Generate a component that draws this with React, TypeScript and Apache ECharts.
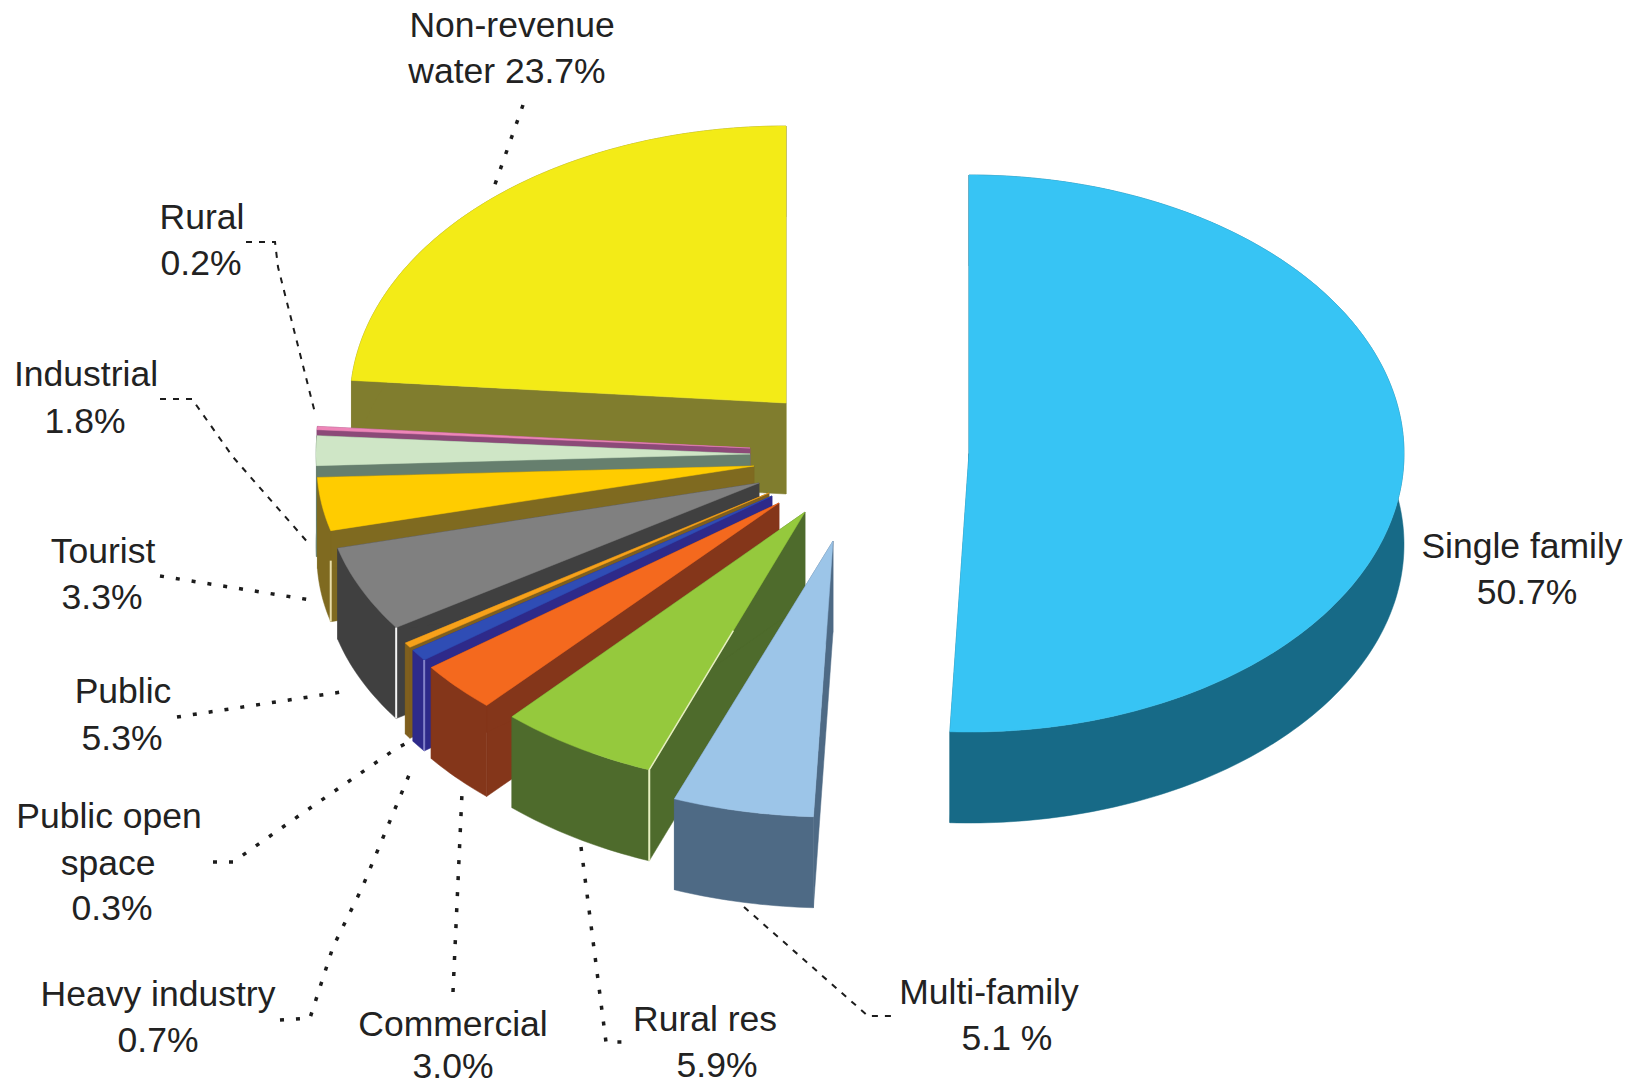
import React, { useEffect, useRef } from "react";
import * as echarts from "echarts";

// Water use by customer class, clockwise from twelve o'clock (percent).
const categories = [
  "Single family",
  "Multi-family",
  "Rural res",
  "Commercial",
  "Heavy industry",
  "Public open space",
  "Public",
  "Tourist",
  "Industrial",
  "Rural",
  "Non-revenue water",
];
const shares = [50.7, 5.1, 5.9, 3.0, 0.7, 0.3, 5.3, 3.3, 1.8, 0.2, 23.7];

const topColors = ["#37C4F4", "#9CC5E8", "#95C93D", "#F4691E", "#2F4DB5", "#F7A11A", "#808080", "#FFCC00", "#CFE6C6", "#EE86B8", "#F3EB17"];
const wallColors = ["#176A87", "#4E6A85", "#4E6B2C", "#84361A", "#2E2A8A", "#7F5F1E", "#404040", "#7F6A20", "#667F6E", "#8C4A78", "#807D2E"];

// Pale catch-light on the near corner of some wedges.
const highlightColors = [null, null, "#E6EFC0", null, "#8282C8", null, "#F4F4F4", "#E8DDA8", null, null, null];
const highlightSkip = [0, 0, 0, 0, 0, 0, 0, 30, 0, 0, 0];
const highlightAlongEdge = [0, 0, 0.54, 0, 0, 0, 0, 0, 0, 0, 0];

// Pulled-out apex and ellipse radii of each wedge on the page.
const apexX = [969, 833, 805, 779, 772, 769, 759, 754, 750, 750, 786];
const apexY = [453.5, 541, 512, 503, 496, 493, 483, 466, 454, 448, 403];
const radiusX = [435, 445, 437, 436, 436, 436, 435, 437, 434, 434, 436];
const radiusY = [278.5, 276, 276, 273, 272, 272, 262, 260, 265, 265, 277];
const wallDepth = 91;

const labelLines = [
  ["Single family", "50.7%"],
  ["Multi-family", "5.1 %"],
  ["Rural res", "5.9%"],
  ["Commercial", "3.0%"],
  ["Heavy industry", "0.7%"],
  ["Public open", "space", "0.3%"],
  ["Public", "5.3%"],
  ["Tourist", "3.3%"],
  ["Industrial", "1.8%"],
  ["Rural", "0.2%"],
  ["Non-revenue", "water 23.7%"],
];
const labelX = [
  [1522, 1527],
  [989, 1007],
  [705, 717],
  [453, 453],
  [158, 158],
  [109, 108, 112],
  [123, 122],
  [103, 102],
  [86, 85],
  [202, 201],
  [512, 507],
];
const labelY = [
  [546, 592],
  [992, 1038],
  [1019, 1065],
  [1024, 1066],
  [994, 1040],
  [816, 863, 908],
  [691, 738],
  [551, 597],
  [374, 421],
  [217, 263],
  [25, 71],
];

// Dotted leaders from each label to its wedge.
const leaders: { points: number[][]; fine?: boolean }[] = [
  { points: [[744, 907], [868, 1016], [894, 1016]], fine: true },
  { points: [[581, 847], [606, 1042], [627, 1042]] },
  { points: [[453, 992], [462, 793]] },
  { points: [[280, 1020], [310, 1018], [333, 947], [362, 888], [407, 780], [413, 765]] },
  { points: [[213, 862], [233, 862], [300, 815], [397, 748], [413, 740]] },
  { points: [[177, 717], [348, 691]] },
  { points: [[160, 576], [317, 601]] },
  { points: [[160, 399], [192, 399], [233, 457], [310, 545]], fine: true },
  { points: [[246, 242], [275, 242], [278, 267], [315, 413]], fine: true },
  { points: [[523, 105], [493, 190]] },
];

// Wedges are painted from the back of the pie forward.
const paintOrder = categories.map((_, i) => i).reverse();

function renderWedge(_params: any, api: any) {
  const idx = api.value(2);
  const start = (api.value(1) / 100) * Math.PI * 2;
  const end = ((api.value(1) + api.value(0)) / 100) * Math.PI * 2;
  const ax = apexX[idx];
  const ay = apexY[idx];
  const rx = radiusX[idx];
  const ry = radiusY[idx];
  const at = (a: number, drop = 0) => [ax + rx * Math.sin(a), ay - ry * Math.cos(a) + drop];

  const steps = Math.max(2, Math.ceil(((end - start) * 180) / Math.PI));
  const arc: number[][] = [];
  const arcLow: number[][] = [];
  for (let s = 0; s <= steps; s++) {
    const a = start + ((end - start) * s) / steps;
    arc.push(at(a));
    arcLow.push(at(a, wallDepth));
  }
  const wall = wallColors[idx];
  const poly = (points: number[][], fill: string) => ({
    type: "polygon",
    shape: { points },
    style: { fill, stroke: fill, lineWidth: 0.5 },
  });
  const children: any[] = [
    poly([[ax, ay], at(start), at(start, wallDepth), [ax, ay + wallDepth]], wall),
    poly([[ax, ay], at(end), at(end, wallDepth), [ax, ay + wallDepth]], wall),
    poly([...arc, ...arcLow.slice().reverse()], wall),
    poly([[ax, ay], ...arc], topColors[idx]),
  ];
  const hi = highlightColors[idx];
  if (hi) {
    const corner = at(start);
    children.push({
      type: "line",
      shape: {
        x1: corner[0],
        y1: corner[1] + highlightSkip[idx],
        x2: corner[0],
        y2: corner[1] + wallDepth,
      },
      style: { stroke: hi, lineWidth: 2 },
    });
    const along = highlightAlongEdge[idx];
    if (along > 0) {
      children.push({
        type: "line",
        shape: {
          x1: corner[0],
          y1: corner[1],
          x2: corner[0] + (ax - corner[0]) * along,
          y2: corner[1] + (ay - corner[1]) * along,
        },
        style: { stroke: hi, lineWidth: 1.5 },
      });
    }
  }
  return { type: "group", children };
}

export default function App() {
  const ref = useRef<HTMLDivElement>(null);
  useEffect(() => {
    document.body.style.margin = "0";
    const chart = echarts.init(ref.current!, undefined, { renderer: "svg" });

    const starts = shares.map((_, i) => shares.slice(0, i).reduce((a, b) => a + b, 0));

    const texts: any[] = [];
    labelLines.forEach((lines, i) => {
      lines.forEach((line, j) => {
        texts.push({
          type: "text",
          x: labelX[i][j],
          y: labelY[i][j],
          z: 10,
          style: {
            text: line,
            fill: "#222222",
            font: '35.5px "Liberation Sans", Arial, sans-serif',
            textAlign: "center",
            textVerticalAlign: "middle",
          },
        });
      });
    });
    const lines = leaders.map((l) => ({
      type: "polyline",
      z: 9,
      shape: { points: l.points },
      style: {
        fill: "none",
        stroke: "#1c1c1c",
        lineWidth: l.fine ? 2 : 3.5,
        lineDash: l.fine ? [6, 7] : [4, 12],
      },
    }));

    chart.setOption({
      animation: false,
      backgroundColor: "#ffffff",
      graphic: [...lines, ...texts],
      series: [
        {
          type: "custom",
          coordinateSystem: "none",
          silent: true,
          renderItem: renderWedge,
          data: paintOrder.map((i) => ({
            name: categories[i],
            value: [shares[i], starts[i], i],
          })),
        },
      ],
    });
    return () => chart.dispose();
  }, []);
  return <div ref={ref} style={{ position: "absolute", left: 0, top: 0, width: 1639, height: 1088 }} />;
}
